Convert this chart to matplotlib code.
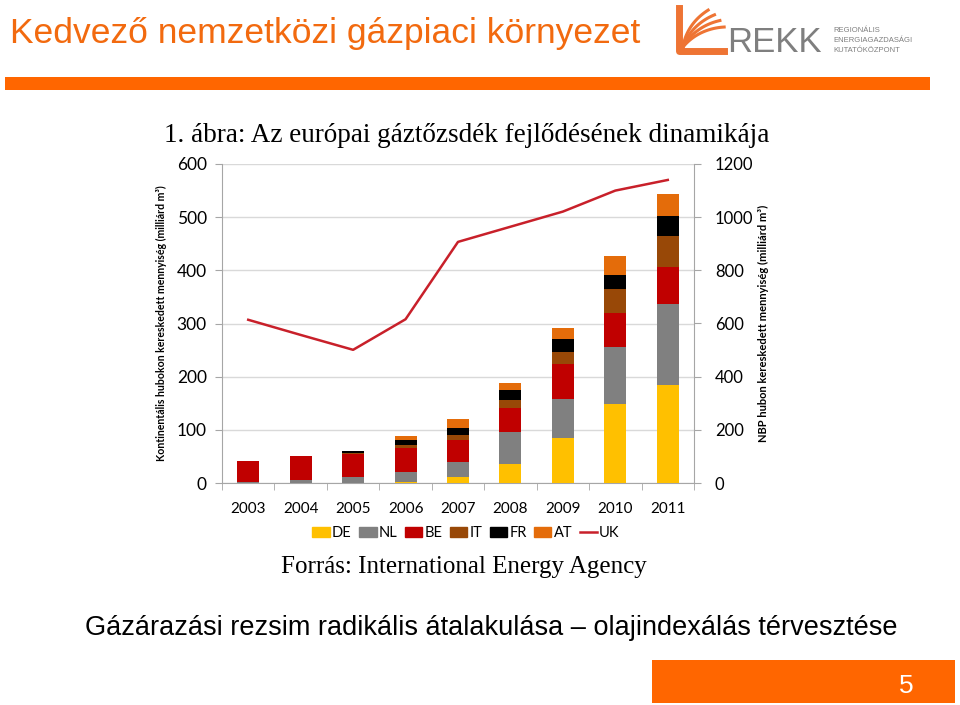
import numpy as np
import matplotlib
matplotlib.use('Agg')
import matplotlib.pyplot as plt
from matplotlib.patches import Rectangle, Patch
from matplotlib.lines import Line2D

# data
years = ['2003', '2004', '2005', '2006', '2007', '2008', '2009', '2010', '2011']
de = [0, 0, 0, 1, 11, 35, 85, 149, 184]
nl = [2, 6, 12, 20, 28, 60, 73, 106, 152]
be = [39, 44, 42, 44, 41, 46, 65, 65, 71]
it = [0, 0, 3, 7, 11, 15, 24, 45, 58]
fr = [0, 0, 4, 8, 12, 18, 23, 27, 38]
at = [0, 0, 0, 9, 17, 15, 22, 35, 40]
uk = [614, 557, 501, 616, 907, 964, 1021, 1100, 1140]

series = [('DE', de, '#FFC000'), ('NL', nl, '#808080'), ('BE', be, '#C00000'),
          ('IT', it, '#984807'), ('FR', fr, '#000000'), ('AT', at, '#E46C0A')]

ORANGE = '#F26A0F'
UI = 'Lato'
UK_COL = '#C8202A'


def fx(px):
    return px / 960


def fy(py):
    return 1 - py / 705


fig = plt.figure(figsize=(9.6, 7.05), dpi=100)

# slide header
fig.text(fx(10), fy(34), 'Kedvező nemzetközi gázpiaci környezet',
         family='Liberation Sans', fontsize=25.5, color=ORANGE,
         va='center', ha='left')
fig.add_artist(Rectangle((fx(5), fy(90)), fx(925), 13 / 705,
                         transform=fig.transFigure, color='#FF6600', lw=0))

# rough REKK logo: an L with rays fanning out
LOGO = '#EE7434'
fig.add_artist(Line2D([fx(679), fx(679), fx(724)], [fy(8), fy(51), fy(51)],
                      transform=fig.transFigure, color=LOGO, lw=5,
                      solid_joinstyle='round'))
for ang in [52, 62, 72, 82]:
    t = np.linspace(0, 1, 25)
    r = 44 * t
    a = np.radians(ang - 25 * t)
    xs = 683 + r * np.cos(a) * 1.05
    ys = 47 - r * np.sin(a)
    fig.add_artist(Line2D(fx(xs), fy(ys), transform=fig.transFigure,
                          color=LOGO, lw=2.2))
fig.text(fx(727), fy(42), 'REKK', family='Liberation Sans', fontsize=25,
         color='#7F7F7F', va='center', ha='left')
for k, w in enumerate(['REGIONÁLIS', 'ENERGIAGAZDASÁGI', 'KUTATÓKÖZPONT']):
    fig.text(fx(833), fy(31 + k * 10), w, family='Liberation Sans',
             fontsize=5.5, color='#7F7F7F', va='center', ha='left')

# chart title
fig.text(fx(467), fy(135),
         '1. ábra: Az európai gáztőzsdék fejlődésének dinamikája',
         family='Liberation Serif', fontsize=19.5, ha='center', va='center')

ax = fig.add_axes([fx(222), fy(483), fx(472), 319 / 705])
x = np.arange(len(years))
bottom = np.zeros(len(years))
for name, vals, col in series:
    ax.bar(x, vals, 0.42, bottom=bottom, color=col, label=name, zorder=3)
    bottom += np.array(vals)

ax.set_xlim(-0.5, len(years) - 0.5)
ax.set_ylim(0, 600)
ax.set_yticks(range(0, 601, 100))
ax.set_xticks(x)
ax.set_xticklabels(years, family=UI, fontsize=11)
ax.set_xticks(np.arange(-0.5, len(years), 1), minor=True)
ax.tick_params(axis='x', which='major', length=0, pad=14)
ax.tick_params(axis='x', which='minor', length=5, color='#A6A6A6', direction='out')
ax.tick_params(axis='y', length=5, color='#A6A6A6', labelsize=12.5, pad=6)
for lab in ax.get_yticklabels():
    lab.set_family(UI)
ax.grid(axis='y', color='#D9D9D9', lw=1, zorder=0)
for s in ['top', 'right']:
    ax.spines[s].set_visible(False)
for s in ['left', 'bottom']:
    ax.spines[s].set_color('#A6A6A6')
ax.set_ylabel('Kontinentális hubokon kereskedett mennyiség (milliárd m³)',
              family=UI, fontsize=7.6, fontweight='bold', labelpad=7)

ax2 = ax.twinx()
ax2.plot(x, uk, color=UK_COL, lw=1.8, label='UK', zorder=4)
ax2.set_ylim(0, 1200)
ax2.set_yticks(range(0, 1201, 200))
ax2.tick_params(axis='y', length=5, color='#A6A6A6', labelsize=12, pad=10)
for lab in ax2.get_yticklabels():
    lab.set_family(UI)
for s in ['top', 'left', 'bottom']:
    ax2.spines[s].set_visible(False)
ax2.spines['right'].set_color('#A6A6A6')
ax2.set_ylabel('NBP hubon kereskedett mennyiség (milliárd m³)',
               family=UI, fontsize=8, fontweight='bold', labelpad=3)

handles = [Patch(color=c, label=n) for n, _, c in series]
handles.append(Line2D([], [], color=UK_COL, lw=1.8, label='UK'))
fig.legend(handles=handles, loc='center', bbox_to_anchor=(fx(466), fy(533)),
           ncol=7, frameon=False, prop={'family': UI, 'size': 10.5},
           handlelength=1.2, handleheight=0.75, handletextpad=0.15,
           columnspacing=0.5)

fig.text(fx(464), fy(567), 'Forrás: International Energy Agency',
         family='Liberation Serif', fontsize=18, ha='center', va='center')

fig.text(fx(491), fy(628),
         'Gázárazási rezsim radikális átalakulása – olajindexálás térvesztése',
         family='Liberation Sans', fontsize=19.5, ha='center', va='center')

fig.add_artist(Rectangle((fx(652), fy(703)), fx(303), 43 / 705,
                         transform=fig.transFigure, color='#FF6600', lw=0))
fig.text(fx(906), fy(686), '5', family='Liberation Sans', fontsize=19,
         color='white', ha='center', va='center')

fig.savefig('out.png', dpi=100)
